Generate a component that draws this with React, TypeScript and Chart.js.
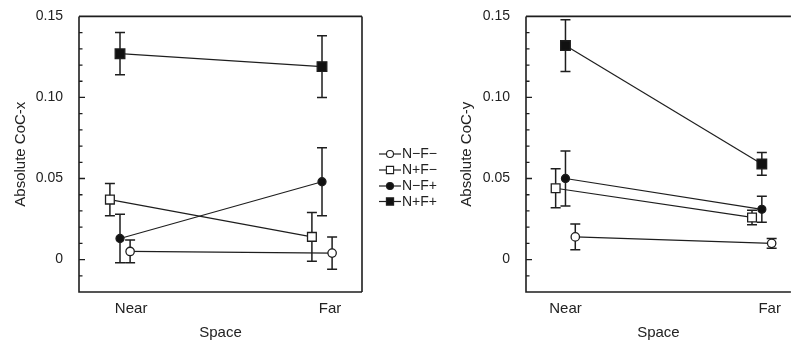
import React, { useEffect, useRef } from 'react';
import { Chart, registerables } from 'chart.js';

Chart.register(...registerables);

// ---------- data ----------
const categories = ['Near', 'Far'];
const seriesNames = ['N\u2212F\u2212', 'N+F\u2212', 'N\u2212F+', 'N+F+'];
const yTickValues = [0, 0.05, 0.1, 0.15];
const xAxisTitle = 'Space';

// Left panel: Absolute CoC-x (means and standard errors, Near / Far)
const cocxTitle = 'Absolute CoC-x';
const cocxNmFmMean = [0.005, 0.004];
const cocxNmFmErr = [0.007, 0.01];
const cocxNpFmMean = [0.037, 0.014];
const cocxNpFmErr = [0.01, 0.015];
const cocxNmFpMean = [0.013, 0.048];
const cocxNmFpErr = [0.015, 0.021];
const cocxNpFpMean = [0.127, 0.119];
const cocxNpFpErr = [0.013, 0.019];

// Right panel: Absolute CoC-y
const cocyTitle = 'Absolute CoC-y';
const cocyNmFmMean = [0.014, 0.01];
const cocyNmFmErr = [0.008, 0.003];
const cocyNpFmMean = [0.044, 0.026];
const cocyNpFmErr = [0.012, 0.0045];
const cocyNmFpMean = [0.05, 0.031];
const cocyNmFpErr = [0.017, 0.008];
const cocyNpFpMean = [0.132, 0.059];
const cocyNpFpErr = [0.016, 0.007];

// ---------- style ----------
const FONT = 'Liberation Sans, Arial, Helvetica, sans-serif';
const INK = '#1e1e1e';
const TEXT = '#222';
const dodge = [0.05, -0.05, 0, 0];
const pointStyles: any[] = ['circle', 'rect', 'circle', 'rect'];
const pointFills = ['#ffffff', '#ffffff', '#111111', '#111111'];
const pointRadii = [4.2, 6.2, 4, 6.8];

type Panel = {
  title: string;
  means: number[][];
  errs: number[][];
  xMin: number;
  xMax: number;
  xTickPos: number[];
  yAxisWidth: number;
  yTitlePad: number;
  padRight: number;
  legend: boolean;
  rightBorder: boolean;
};

const errorBarPlugin = {
  id: 'errorBars',
  beforeDatasetsDraw(chart: any) {
    const { ctx } = chart;
    const xs = chart.scales.x;
    const ys = chart.scales.y;
    ctx.save();
    ctx.strokeStyle = INK;
    ctx.lineWidth = 1.5;
    chart.data.datasets.forEach((ds: any) => {
      ds.data.forEach((p: any, i: number) => {
        const e = ds.errs[i];
        const x = xs.getPixelForValue(p.x);
        const yt = ys.getPixelForValue(p.y + e);
        const yb = ys.getPixelForValue(p.y - e);
        ctx.beginPath();
        ctx.moveTo(x, yt);
        ctx.lineTo(x, yb);
        ctx.moveTo(x - 5, yt);
        ctx.lineTo(x + 5, yt);
        ctx.moveTo(x - 5, yb);
        ctx.lineTo(x + 5, yb);
        ctx.stroke();
      });
    });
    ctx.restore();
  },
};

const framePlugin = {
  id: 'frame',
  afterDraw(chart: any) {
    const { ctx, chartArea: a } = chart;
    const ys = chart.scales.y;
    const opts = chart.options.plugins.frame || {};
    ctx.save();
    ctx.strokeStyle = INK;
    ctx.lineWidth = 1.6;
    ctx.beginPath();
    ctx.moveTo(a.left, a.top);
    ctx.lineTo(a.left, a.bottom);
    ctx.lineTo(a.right, a.bottom);
    ctx.moveTo(a.left, a.top);
    ctx.lineTo(a.right, a.top);
    if (opts.rightBorder) {
      ctx.moveTo(a.right, a.top);
      ctx.lineTo(a.right, a.bottom);
    }
    ctx.stroke();
    // inward ticks on the y axis
    ctx.lineWidth = 1.3;
    ctx.beginPath();
    for (let k = -1; k <= 14; k++) {
      const v = k / 100;
      const y = ys.getPixelForValue(v);
      const len = k % 5 === 0 ? 6 : 3.5;
      ctx.moveTo(a.left, y);
      ctx.lineTo(a.left + len, y);
    }
    ctx.stroke();

    if (opts.legend) {
      const x0 = a.right + 17;
      const x1 = a.right + 39;
      const xm = (x0 + x1) / 2;
      const ys0 = [154, 170, 186, 201.5];
      ctx.font = `14px ${FONT}`;
      ctx.textBaseline = 'middle';
      ctx.textAlign = 'left';
      seriesNames.forEach((name, i) => {
        const y = ys0[i];
        ctx.strokeStyle = INK;
        ctx.lineWidth = 1.2;
        ctx.beginPath();
        ctx.moveTo(x0, y);
        ctx.lineTo(x1, y);
        ctx.stroke();
        ctx.fillStyle = pointFills[i];
        ctx.lineWidth = 1.1;
        ctx.beginPath();
        if (pointStyles[i] === 'circle') {
          ctx.arc(xm, y, 3.5, 0, Math.PI * 2);
        } else {
          ctx.rect(xm - 3.6, y - 3.6, 7.2, 7.2);
        }
        ctx.fill();
        ctx.stroke();
        ctx.fillStyle = TEXT;
        ctx.fillText(name, x1 + 1, y + 0.5);
      });
    }
    ctx.restore();
  },
};

function PanelChart({ panel, width, height }: { panel: Panel; width: number; height: number }) {
  const ref = useRef<HTMLCanvasElement | null>(null);
  useEffect(() => {
    if (!ref.current) return;
    const datasets = seriesNames.map((name, s) => ({
      label: name,
      data: categories.map((_, i) => ({ x: i + dodge[s], y: panel.means[s][i] })),
      errs: panel.errs[s],
      showLine: true,
      borderColor: INK,
      borderWidth: 1.2,
      pointStyle: pointStyles[s],
      pointRadius: pointRadii[s],
      pointBackgroundColor: pointFills[s],
      pointBorderColor: INK,
      pointBorderWidth: 1.3,
    }));
    const chart = new Chart(ref.current, {
      type: 'scatter',
      data: { datasets } as any,
      plugins: [errorBarPlugin, framePlugin],
      options: {
        animation: false,
        responsive: false,
        maintainAspectRatio: false,
        layout: { padding: { top: 15, right: panel.padRight, bottom: 0, left: 0 } },
        plugins: {
          legend: { display: false },
          tooltip: { enabled: false },
          frame: { legend: panel.legend, rightBorder: panel.rightBorder },
        } as any,
        scales: {
          x: {
            type: 'linear',
            min: panel.xMin,
            max: panel.xMax,
            afterFit: (s: any) => {
              s.height = 48;
            },
            afterBuildTicks: (s: any) => {
              s.ticks = panel.xTickPos.map((v) => ({ value: v }));
            },
            ticks: {
              autoSkip: false,
              maxRotation: 0,
              padding: 0,
              color: TEXT,
              font: { family: FONT, size: 15 },
              callback: (_v: any, i: number) => categories[i],
            },
            grid: { display: false },
            border: { display: false },
            title: {
              display: true,
              text: xAxisTitle,
              color: TEXT,
              font: { family: FONT, size: 15, lineHeight: 1 },
              padding: { top: 0, bottom: 0 },
            },
          },
          y: {
            type: 'linear',
            min: -0.02,
            max: 0.15,
            afterFit: (s: any) => {
              s.width = panel.yAxisWidth;
            },
            afterBuildTicks: (s: any) => {
              s.ticks = yTickValues.map((v) => ({ value: v }));
            },
            ticks: {
              padding: 8,
              color: TEXT,
              font: { family: FONT, size: 14 },
              callback: (v: any) => (Math.abs(v) < 1e-9 ? '0' : Number(v).toFixed(2)),
            },
            grid: { display: false },
            border: { display: false },
            title: {
              display: true,
              text: panel.title,
              color: TEXT,
              font: { family: FONT, size: 15 },
              padding: { top: panel.yTitlePad, bottom: 0 },
            },
          },
        },
      } as any,
    });
    return () => chart.destroy();
  }, [panel]);
  return <canvas ref={ref} width={width} height={height} style={{ width, height, display: 'block' }} />;
}

const leftPanel: Panel = {
  title: cocxTitle,
  means: [cocxNmFmMean, cocxNpFmMean, cocxNmFpMean, cocxNpFpMean],
  errs: [cocxNmFmErr, cocxNpFmErr, cocxNmFpErr, cocxNpFpErr],
  xMin: -0.203,
  xMax: 1.198,
  xTickPos: [0.055, 1.04],
  yAxisWidth: 79,
  yTitlePad: 11.5,
  padRight: 93,
  legend: true,
  rightBorder: true,
};

const rightPanel: Panel = {
  title: cocyTitle,
  means: [cocyNmFmMean, cocyNpFmMean, cocyNmFpMean, cocyNpFpMean],
  errs: [cocyNmFmErr, cocyNpFmErr, cocyNmFpErr, cocyNpFpErr],
  xMin: -0.201,
  xMax: 1.148,
  xTickPos: [0, 1.04],
  yAxisWidth: 71,
  yTitlePad: 3,
  padRight: 0,
  legend: false,
  rightBorder: false,
};

export default function App() {
  useEffect(() => {
    document.body.style.margin = '0';
  }, []);
  return (
    <div style={{ position: 'absolute', left: 0, top: 0, width: 799, height: 340, background: '#fff' }}>
      <div style={{ position: 'absolute', left: 0, top: 0 }}>
        <PanelChart panel={leftPanel} width={455} height={340} />
      </div>
      <div style={{ position: 'absolute', left: 455, top: 0 }}>
        <PanelChart panel={rightPanel} width={344} height={340} />
      </div>
    </div>
  );
}
